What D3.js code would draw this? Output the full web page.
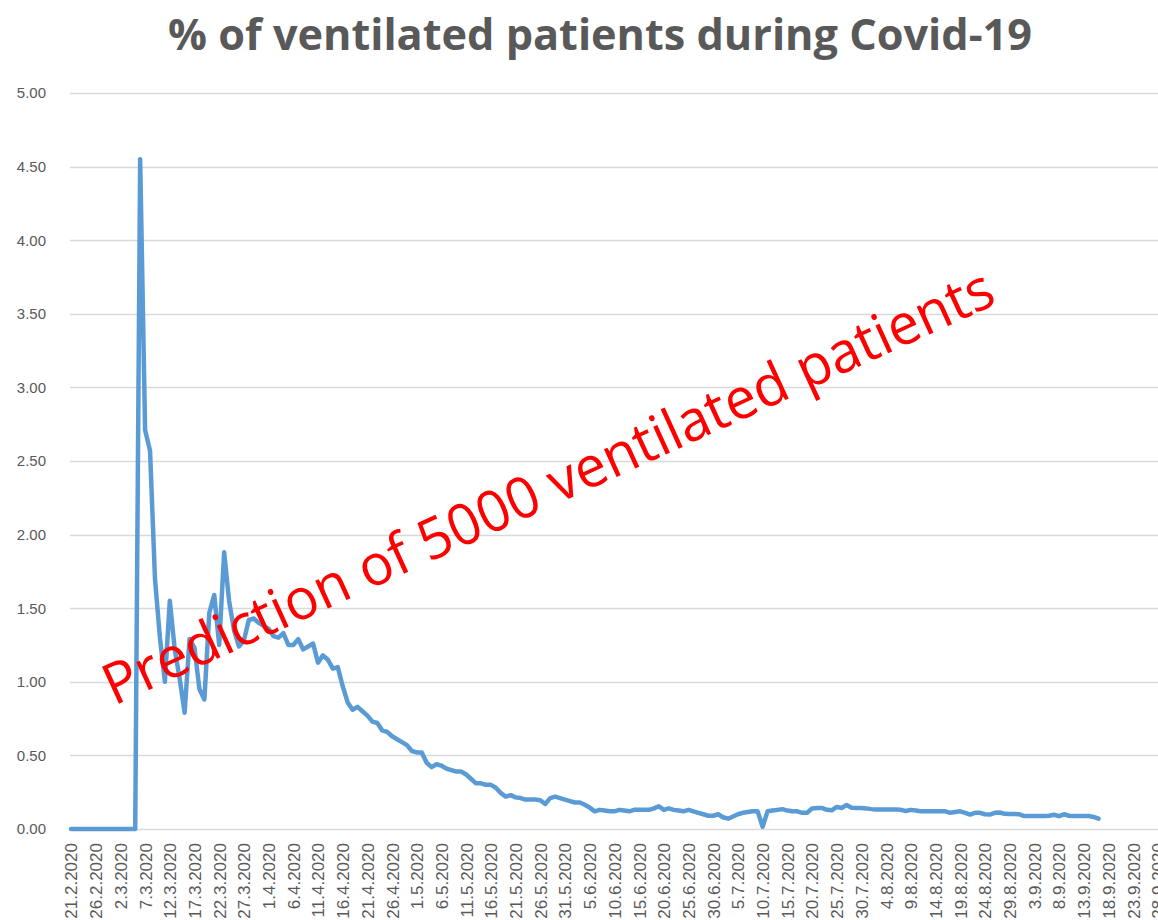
<!DOCTYPE html>
<html lang="en">
  <head>
    <meta charset="UTF-8">
    <title>% of ventilated patients during Covid-19</title>
    <style>
      body { margin: 0; background: #fff; }
      svg { display: block; }
    </style>
  </head>
  <body>
<div id="chart"></div>
<script src="https://cdn.jsdelivr.net/npm/d3@7"></script>
<script>

// data: one value per day starting at firstDay
var firstDay = "21.2.2020"
var axisLastDay = "1.10.2020"
var yTicks = [0, 0.5, 1, 1.5, 2, 2.5, 3, 3.5, 4, 4.5, 5]
var ventilatedPct = [
  0, 0, 0, 0, 0, 0, 0, 0, 0, 0, 0, 0, 0, 0,
  4.55, 2.71, 2.57, 1.70, 1.30, 1.00, 1.55, 1.22, 1.02, 0.79,
  1.29, 1.23, 0.95, 0.88, 1.47, 1.59, 1.25, 1.88, 1.55, 1.35,
  1.24, 1.28, 1.42, 1.43, 1.40, 1.38, 1.36, 1.31, 1.30, 1.33,
  1.25, 1.25, 1.29, 1.22, 1.24, 1.26, 1.13, 1.18, 1.15, 1.09,
  1.10, 0.97, 0.86, 0.81, 0.83, 0.80, 0.77, 0.73, 0.72, 0.67,
  0.66, 0.63, 0.61, 0.59, 0.57, 0.53, 0.52, 0.52, 0.45, 0.42,
  0.44, 0.43, 0.41, 0.40, 0.39, 0.39, 0.37, 0.34, 0.31, 0.31,
  0.30, 0.30, 0.28, 0.245, 0.22, 0.23, 0.215, 0.21, 0.20, 0.20,
  0.20, 0.195, 0.17, 0.21, 0.22, 0.21, 0.20, 0.19, 0.18, 0.18,
  0.165, 0.145, 0.12, 0.13, 0.125, 0.12, 0.12, 0.13, 0.125, 0.12,
  0.13, 0.13, 0.13, 0.13, 0.14, 0.155, 0.13, 0.14, 0.13, 0.125,
  0.12, 0.13, 0.12, 0.11, 0.10, 0.09, 0.09, 0.10, 0.08, 0.07,
  0.085, 0.10, 0.11, 0.115, 0.12, 0.12, 0.015, 0.12, 0.125, 0.13,
  0.135, 0.125, 0.12, 0.12, 0.11, 0.11, 0.14, 0.143, 0.143, 0.13,
  0.127, 0.15, 0.143, 0.163, 0.145, 0.143, 0.143, 0.14, 0.135, 0.132,
  0.132, 0.132, 0.132, 0.132, 0.13, 0.122, 0.13, 0.125, 0.12, 0.12,
  0.12, 0.12, 0.12, 0.12, 0.11, 0.115, 0.12, 0.11, 0.098, 0.11,
  0.11, 0.10, 0.098, 0.11, 0.112, 0.103, 0.102, 0.102, 0.10, 0.088,
  0.088, 0.088, 0.088, 0.088, 0.09, 0.097, 0.087, 0.10, 0.09, 0.088,
  0.088, 0.088, 0.088, 0.082, 0.07
]
var chartTitle = "% of ventilated patients during Covid-19"
var overlayText = "Prediction of 5000 ventilated patients"

// sizes
var width = 1158, height = 920
var dayStep = 4.94
var plotLeft = 71, plotTop = 93, plotBottom = 829

var parseDay = d3.utcParse("%d.%m.%Y")
var fmtDay = d3.utcFormat("%-d.%-m.%Y")
var start = parseDay(firstDay)
var end = parseDay(axisLastDay)
var nDays = d3.utcDay.count(start, end)

var svg = d3.select("#chart")
  .append("svg")
    .attr("width", width)
    .attr("height", height)

var x = d3.scaleUtc()
  .domain([start, end])
  .range([plotLeft, plotLeft + nDays * dayStep])

var y = d3.scaleLinear()
  .domain([0, 5])
  .range([plotBottom, plotTop])

// horizontal gridlines
svg.append("g")
  .selectAll("line")
  .data(yTicks)
  .enter()
  .append("line")
    .attr("x1", plotLeft - 1)
    .attr("x2", width)
    .attr("y1", function(d) { return Math.round(y(d)) + 0.5 })
    .attr("y2", function(d) { return Math.round(y(d)) + 0.5 })
    .attr("stroke", "#d9d9d9")
    .attr("stroke-width", 1.5)

// y axis labels
var yAxis = svg.append("g")
  .attr("transform", "translate(46,0)")
  .call(d3.axisLeft(y).tickValues(yTicks).tickFormat(d3.format(".2f")).tickSize(0).tickPadding(0))
yAxis.select(".domain").remove()
yAxis.selectAll("text")
  .attr("fill", "#595959")
  .style("font-family", "'Liberation Sans', Arial, sans-serif")
  .style("font-size", "15px")

// x axis labels, every 5th day
var xTicks = d3.utcDay.range(start, end, 5)
var xAxis = svg.append("g")
  .attr("transform", "translate(0," + plotBottom + ")")
  .call(d3.axisBottom(x).tickValues(xTicks).tickFormat(fmtDay).tickSize(0))
xAxis.select(".domain").remove()
xAxis.selectAll("text")
  .attr("fill", "#595959")
  .style("font-family", "'Liberation Sans', Arial, sans-serif")
  .style("font-size", "17px")
  .attr("text-anchor", "end")
  .attr("transform", "translate(0,14) rotate(-90)")
  .attr("x", 0)
  .attr("y", 0)
  .attr("dy", "0.35em")

// the line
var line = d3.line()
  .x(function(d, i) { return x(d3.utcDay.offset(start, i)) })
  .y(function(d) { return y(d) })

svg.append("path")
  .datum(ventilatedPct)
  .attr("d", line)
  .attr("fill", "none")
  .attr("stroke", "#5b9bd5")
  .attr("stroke-width", 4.5)
  .attr("stroke-linejoin", "round")
  .attr("stroke-linecap", "round")

// title
svg.append("text")
  .attr("x", 600)
  .attr("y", 50)
  .attr("text-anchor", "middle")
  .attr("fill", "#595959")
  .style("font-family", "'Open Sans', sans-serif")
  .style("font-weight", "bold")
  .style("font-size", "43px")
  .attr("textLength", 864)
  .attr("lengthAdjust", "spacingAndGlyphs")
  .text(chartTitle)

// red overlay text across the chart
svg.append("text")
  .attr("transform", "translate(114,706) rotate(-24.5)")
  .attr("fill", "#ff0000")
  .style("font-family", "'Open Sans', sans-serif")
  .style("font-size", "57px")
  .attr("textLength", 972)
  .attr("lengthAdjust", "spacingAndGlyphs")
  .text(overlayText)

</script>
  </body>
</html>
